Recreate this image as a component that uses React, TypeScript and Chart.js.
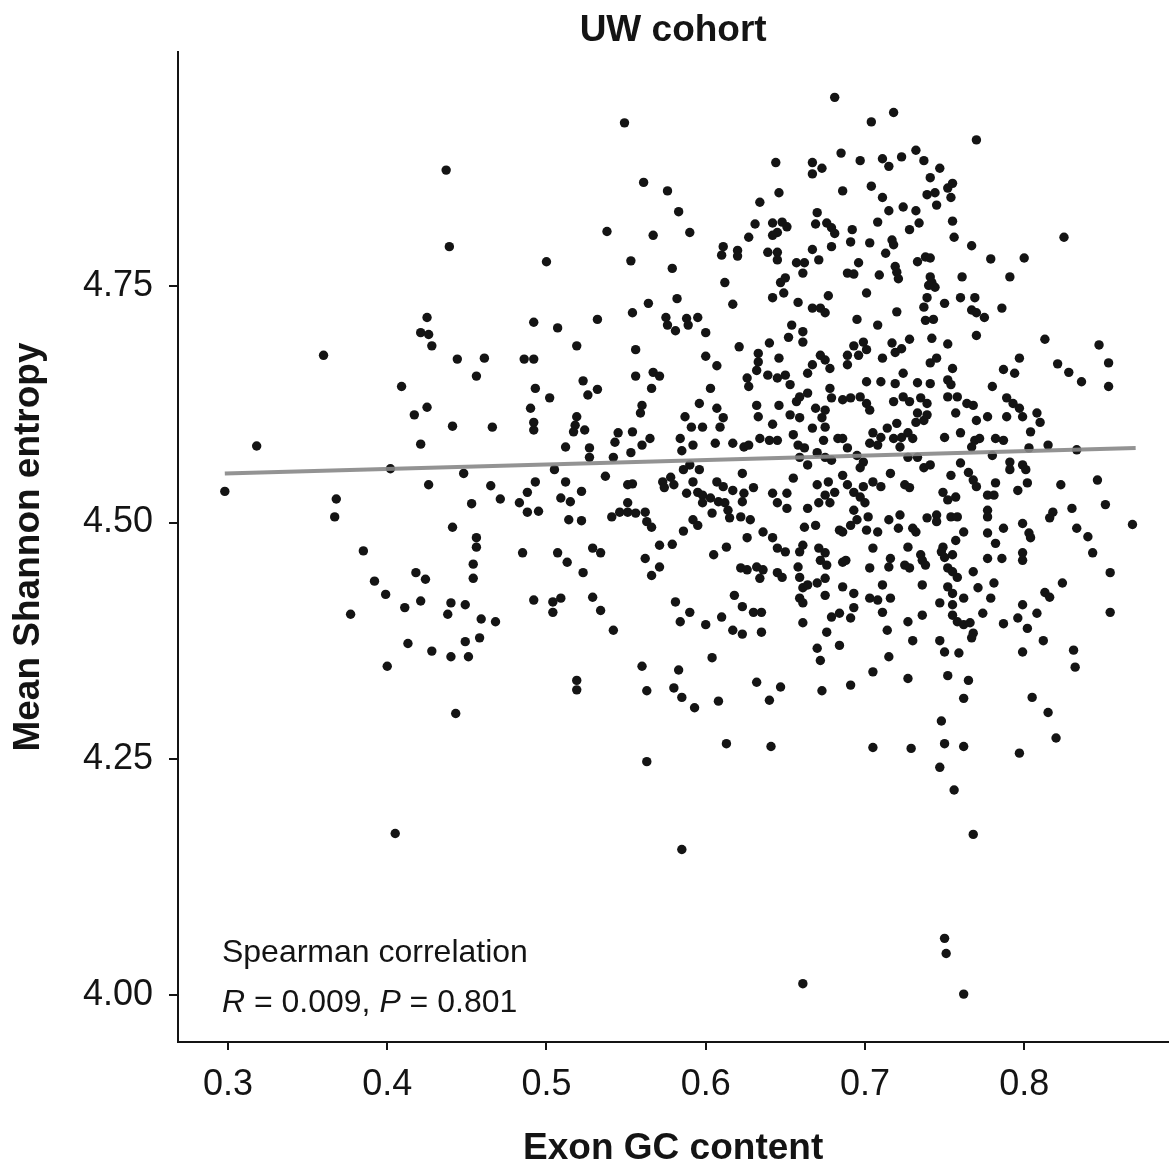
import React, { useEffect, useRef } from "react";
import { Chart, registerables } from "chart.js";

Chart.register(...registerables);

const FONT = "'Liberation Sans', Arial, Helvetica, sans-serif";

const chartTitle = "UW cohort";
const xAxisTitle = "Exon GC content";
const yAxisTitle = "Mean Shannon entropy";

const xTicks = [0.3, 0.4, 0.5, 0.6, 0.7, 0.8];
const yTicks = [4.0, 4.25, 4.5, 4.75];
const xRange = [0.2686, 0.8905];
const yRange = [3.9503, 4.998];

// linear fit line (endpoints)
const fitX = [0.298, 0.87];
const fitY = [4.552, 4.579];

const annotLine1 = "Spearman correlation";
const annotSegments = [
  { text: "R", italic: true },
  { text: " = 0.009, ", italic: false },
  { text: "P", italic: true },
  { text: " = 0.801", italic: false },
];
const annotAnchorX = 0.2962;
const annotAnchorY = [4.035, 3.982];

// Exon GC content (x)
const gcContent = [
  0.437,0.439,0.425,0.421,0.426,0.428,0.360,0.444,0.461,0.456,
  0.409,0.681,0.549,0.685,0.644,0.667,0.673,0.667,0.561,0.576,
  0.646,0.686,0.634,0.583,0.670,0.631,0.642,0.648,0.651,0.645,
  0.642,0.669,0.676,0.679,0.681,0.538,0.567,0.590,0.627,0.611,
  0.610,0.620,0.620,0.639,0.645,0.645,0.667,0.679,0.671,0.657,
  0.662,0.661,0.500,0.553,0.579,0.612,0.647,0.650,0.649,0.642,
  0.617,0.582,0.564,0.554,0.658,0.677,0.667,0.672,0.675,0.492,
  0.507,0.532,0.575,0.576,0.581,0.588,0.589,0.595,0.600,0.654,
  0.652,0.661,0.661,0.519,0.621,0.640,0.556,0.486,0.492,0.633,
  0.633,0.632,0.646,0.672,0.675,0.667,0.664,0.678,0.600,0.607,
  0.556,0.567,0.571,0.523,0.626,0.627,0.639,0.645,0.650,0.653,
  0.493,0.532,0.566,0.603,0.678,
  // upper right
  0.718,0.704,0.770,0.697,0.711,0.715,0.723,0.732,0.737,0.747,
  0.704,0.711,0.741,0.739,0.744,0.752,0.755,0.754,0.745,0.715,
  0.724,0.732,0.708,0.734,0.728,0.755,0.756,0.692,0.691,0.703,
  0.717,0.718,0.713,0.767,0.825,0.779,0.800,0.696,0.689,0.693,
  0.709,0.719,0.720,0.721,0.733,0.738,0.741,0.741,0.742,0.744,
  0.740,0.761,0.791,0.701,0.739,0.737,0.750,0.760,0.769,0.767,
  0.770,0.775,0.786,0.720,0.695,0.708,0.738,0.743,0.770,0.813,
  0.847,0.742,0.752,0.728,0.693,0.699,0.689,0.696,0.689,0.701,
  0.717,0.719,0.711,0.723,0.741,0.745,0.755,0.797,0.787,0.794,
  0.821,0.828,0.836,0.853,0.853,0.701,0.710,0.719,0.724,0.733,
  0.741,0.752,0.754,0.780,
  // middle left
  0.425,0.417,0.441,0.466,0.318,0.421,0.402,0.448,0.298,0.426,
  0.465,0.471,0.453,0.368,0.367,0.441,0.456,0.456,0.385,0.454,
  0.454,0.418,0.424,0.392,0.399,0.421,0.411,0.440,0.449,0.438,
  0.377,0.459,0.468,0.458,0.449,0.413,0.428,0.440,0.451,0.400,
  0.443,
  // middle
  0.502,0.526,0.659,0.664,0.657,0.679,0.490,0.492,0.492,0.519,
  0.518,0.524,0.517,0.560,0.559,0.596,0.607,0.611,0.609,0.632,
  0.633,0.646,0.642,0.653,0.659,0.669,0.675,0.673,0.675,0.667,
  0.686,0.587,0.591,0.598,0.554,0.565,0.560,0.545,0.543,0.512,
  0.527,0.527,0.584,0.592,0.585,0.606,0.617,0.624,0.627,0.634,
  0.640,0.645,0.655,0.658,0.662,0.659,0.664,0.670,0.675,0.679,
  0.674,0.683,0.553,0.542,0.590,0.586,0.596,0.505,0.537,0.623,
  0.655,0.493,0.488,0.512,0.522,0.509,0.515,0.483,0.488,0.495,
  0.514,0.522,0.551,0.554,0.573,0.578,0.580,0.574,0.592,0.588,
  0.595,0.598,0.603,0.608,0.598,0.604,0.612,0.614,0.607,0.611,
  0.617,0.624,0.630,0.623,0.642,0.651,0.645,0.651,0.664,0.670,
  0.677,0.681,0.675,0.678,0.671,0.551,0.546,0.551,0.556,0.562,
  0.563,0.566,0.541,0.592,0.595,0.615,0.622,0.628,0.586,0.571,
  0.579,0.636,0.626,0.642,0.645,0.650,0.662,0.669,0.684,0.661,
  0.659,0.671,0.675,0.672,0.676,0.485,0.507,0.513,0.529,0.534,
  0.562,0.605,0.613,0.571,0.566,0.523,0.622,0.626,0.632,0.636,
  0.634,0.645,0.648,0.658,0.659,0.661,0.659,0.664,0.670,0.675,
  0.675,0.661,0.686,0.686,0.492,0.504,0.509,0.504,0.529,0.534,
  0.542,0.581,0.590,0.584,0.600,0.610,0.618,0.623,0.630,0.635,
  0.617,0.623,0.635,0.661,0.676,0.679,0.684,0.684,0.670,0.672,
  0.560,0.583,0.604,0.519,0.519,0.563,0.580,0.585,0.608,0.593,
  0.632,0.647,0.640,0.673,
  // middle right
  0.691,0.697,0.701,0.703,0.718,0.724,0.728,0.735,0.739,0.752,
  0.758,0.764,0.768,0.789,0.793,0.797,0.799,0.808,0.810,0.804,
  0.757,0.770,0.777,0.789,0.733,0.737,0.732,0.739,0.720,0.714,
  0.705,0.710,0.703,0.708,0.718,0.723,0.727,0.730,0.686,0.689,
  0.695,0.699,0.697,0.722,0.727,0.733,0.750,0.760,0.769,0.772,
  0.767,0.782,0.787,0.780,0.803,0.815,0.833,0.791,0.799,0.801,
  0.791,0.737,0.741,0.716,0.754,0.760,0.765,0.768,0.770,0.777,
  0.781,0.782,0.686,0.689,0.693,0.697,0.700,0.699,0.705,0.710,
  0.725,0.728,0.749,0.752,0.757,0.796,0.802,0.823,0.846,0.830,
  0.851,0.868,0.818,0.816,0.777,0.777,0.693,0.695,0.691,0.686,
  0.702,0.701,0.708,0.715,0.721,0.722,0.730,0.732,0.739,0.745,
  0.745,0.754,0.758,0.762,0.757,0.749,0.748,0.755,0.750,0.777,
  0.782,0.787,0.799,0.803,0.804,0.833,0.840,0.843,0.705,0.727,
  0.735,0.736,0.738,0.716,0.715,0.703,0.725,0.728,0.688,0.777,
  0.786,0.799,0.799,0.752,0.755,0.758,0.768,0.854,0.711,0.736,
  0.781,0.771,0.779,0.752,0.755,0.762,0.813,0.816,0.824,
  0.693,0.703,0.708,0.716,0.747,0.755,
  0.693,0.691,0.711,0.736,0.774,0.799,0.808,0.854,
  0.755,0.758,0.762,0.766,0.768,0.767,0.787,0.796,0.802,0.727,0.714,0.730,0.747,
  0.750,0.759,0.715,0.799,0.812,0.831,0.832,0.705,0.727,0.752,0.765,0.691,0.762,0.805,0.815,
  // low outliers
  0.405,
  0.613,0.641,0.563,0.585,0.661,
  0.748,0.705,0.729,0.750,0.762,0.797,0.820,0.747,0.756,0.768,0.750,0.751,0.762,
];

// Mean Shannon entropy (y)
const shannonEntropy = [
  4.873,4.792,4.717,4.701,4.699,4.687,4.677,4.673,4.674,4.655,
  4.644,4.950,4.923,4.891,4.881,4.881,4.875,4.869,4.860,4.851,
  4.849,4.851,4.839,4.829,4.828,4.816,4.817,4.818,4.813,4.807,
  4.804,4.816,4.817,4.812,4.806,4.808,4.804,4.807,4.802,4.792,
  4.783,4.788,4.782,4.786,4.786,4.778,4.789,4.792,4.778,4.775,
  4.775,4.764,4.776,4.777,4.769,4.754,4.754,4.759,4.743,4.738,
  4.731,4.737,4.732,4.722,4.733,4.740,4.727,4.727,4.722,4.712,
  4.706,4.715,4.717,4.709,4.703,4.716,4.709,4.717,4.701,4.709,
  4.696,4.702,4.691,4.687,4.686,4.690,4.683,4.673,4.673,4.679,
  4.670,4.661,4.674,4.677,4.672,4.667,4.658,4.663,4.676,4.666,
  4.655,4.659,4.655,4.650,4.653,4.644,4.656,4.653,4.656,4.646,
  4.642,4.641,4.642,4.642,4.642,
  // upper right
  4.934,4.924,4.905,4.883,4.885,4.877,4.887,4.894,4.883,4.875,
  4.856,4.844,4.865,4.847,4.849,4.854,4.859,4.844,4.836,4.830,
  4.834,4.830,4.818,4.817,4.810,4.819,4.802,4.810,4.797,4.796,
  4.799,4.794,4.785,4.793,4.802,4.779,4.780,4.775,4.764,4.763,
  4.762,4.771,4.765,4.758,4.776,4.781,4.780,4.760,4.754,4.749,
  4.751,4.760,4.760,4.743,4.738,4.728,4.732,4.738,4.738,4.725,
  4.722,4.717,4.727,4.723,4.715,4.709,4.714,4.715,4.698,4.694,
  4.688,4.695,4.689,4.694,4.687,4.691,4.677,4.677,4.667,4.683,
  4.690,4.680,4.674,4.684,4.669,4.674,4.663,4.674,4.662,4.658,
  4.668,4.659,4.649,4.669,4.644,4.649,4.649,4.647,4.658,4.648,
  4.647,4.651,4.646,4.644,
  // middle left
  4.622,4.614,4.602,4.601,4.581,4.583,4.557,4.552,4.533,4.540,
  4.539,4.525,4.520,4.525,4.506,4.495,4.484,4.474,4.470,4.456,
  4.441,4.447,4.440,4.438,4.424,4.417,4.410,4.415,4.413,4.403,
  4.403,4.398,4.395,4.378,4.374,4.372,4.364,4.358,4.358,4.348,
  4.298,
  // middle
  4.632,4.635,4.633,4.637,4.628,4.632,4.621,4.606,4.598,4.612,
  4.603,4.598,4.596,4.624,4.616,4.626,4.621,4.611,4.601,4.624,
  4.612,4.624,4.604,4.614,4.611,4.621,4.619,4.611,4.601,4.600,
  4.630,4.612,4.601,4.601,4.596,4.589,4.582,4.595,4.585,4.580,
  4.579,4.569,4.589,4.582,4.576,4.584,4.584,4.580,4.582,4.589,
  4.587,4.587,4.593,4.582,4.579,4.569,4.561,4.574,4.569,4.566,
  4.587,4.589,4.574,4.569,4.561,4.556,4.556,4.556,4.549,4.552,
  4.547,4.543,4.532,4.543,4.533,4.526,4.522,4.521,4.511,4.512,
  4.503,4.502,4.540,4.541,4.543,4.548,4.540,4.537,4.543,4.531,
  4.532,4.529,4.526,4.522,4.521,4.510,4.521,4.513,4.543,4.538,
  4.534,4.531,4.537,4.522,4.531,4.531,4.521,4.515,4.515,4.540,
  4.543,4.532,4.529,4.521,4.521,4.521,4.511,4.511,4.510,4.511,
  4.501,4.495,4.506,4.503,4.497,4.505,4.506,4.503,4.491,4.476,
  4.477,4.490,4.484,4.484,4.473,4.469,4.495,4.497,4.492,4.476,
  4.469,4.473,4.468,4.460,4.455,4.468,4.468,4.458,4.473,4.468,
  4.462,4.466,4.474,4.453,4.444,4.447,4.452,4.450,4.453,4.450,
  4.441,4.447,4.442,4.453,4.442,4.431,4.420,4.434,4.436,4.441,
  4.423,4.415,4.458,4.432,4.418,4.416,4.420,4.405,4.421,4.407,
  4.386,4.416,4.405,4.395,4.392,4.400,4.423,4.411,4.405,4.405,
  4.386,4.382,4.384,4.394,4.384,4.400,4.404,4.370,4.367,4.354,
  4.348,4.344,4.357,4.333,4.323,4.322,4.325,4.315,4.311,4.304,
  4.331,4.326,4.312,4.322,
  // middle right
  4.632,4.633,4.626,4.619,4.628,4.633,4.628,4.632,4.626,4.633,
  4.633,4.626,4.624,4.632,4.626,4.621,4.612,4.616,4.606,4.596,
  4.616,4.608,4.612,4.612,4.616,4.608,4.606,4.614,4.605,4.600,
  4.595,4.590,4.584,4.582,4.589,4.590,4.595,4.589,4.589,4.579,
  4.571,4.564,4.558,4.580,4.569,4.569,4.590,4.595,4.587,4.589,
  4.580,4.589,4.587,4.571,4.579,4.582,4.577,4.564,4.561,4.556,
  4.556,4.558,4.561,4.552,4.550,4.563,4.553,4.545,4.538,4.529,
  4.529,4.542,4.550,4.540,4.532,4.527,4.521,4.538,4.543,4.538,
  4.540,4.537,4.532,4.524,4.527,4.534,4.542,4.540,4.545,4.515,
  4.519,4.498,4.511,4.505,4.513,4.506,4.513,4.503,4.497,4.490,
  4.506,4.492,4.490,4.503,4.494,4.508,4.494,4.490,4.505,4.508,
  4.501,4.506,4.506,4.490,4.481,4.474,4.469,4.466,4.463,4.489,
  4.478,4.494,4.499,4.489,4.484,4.494,4.485,4.468,4.473,4.474,
  4.466,4.460,4.455,4.462,4.453,4.452,4.455,4.452,4.460,4.462,
  4.462,4.468,4.460,4.452,4.448,4.442,4.448,4.447,4.434,4.434,
  4.436,4.431,4.420,4.432,4.425,4.420,4.426,4.421,4.436,
  4.425,4.420,4.418,4.420,4.415,4.413,
  4.410,4.399,4.405,4.402,4.404,4.413,4.404,4.405,
  4.402,4.395,4.392,4.394,4.383,4.378,4.393,4.399,4.388,4.395,4.386,4.375,4.375,
  4.363,4.362,4.358,4.363,4.375,4.365,4.347,4.342,4.335,4.338,4.333,4.328,4.314,4.315,4.299,
  // low outliers
  4.171,
  4.266,4.263,4.247,4.154,4.012,
  4.290,4.262,4.261,4.266,4.263,4.256,4.272,4.241,4.217,4.170,4.060,4.044,4.001,
];

const INK = "#141414";

export default function App() {
  const canvasRef = useRef<HTMLCanvasElement | null>(null);

  useEffect(() => {
    const canvas = canvasRef.current;
    if (!canvas) return;

    const points = gcContent.map((x, i) => ({ x, y: shannonEntropy[i] }));
    const fitPoints = fitX.map((x, i) => ({ x, y: fitY[i] }));

    const annotationPlugin = {
      id: "spearmanAnnotation",
      afterDraw(chart: any) {
        const { ctx, scales } = chart;
        const px = scales.x.getPixelForValue(annotAnchorX);
        ctx.save();
        ctx.fillStyle = INK;
        ctx.textAlign = "left";
        ctx.textBaseline = "alphabetic";
        ctx.font = `32px ${FONT}`;
        ctx.fillText(annotLine1, px, scales.y.getPixelForValue(annotAnchorY[0]));
        let cx = px;
        const by = scales.y.getPixelForValue(annotAnchorY[1]);
        for (const seg of annotSegments) {
          ctx.font = `${seg.italic ? "italic " : ""}32px ${FONT}`;
          ctx.fillText(seg.text, cx, by);
          cx += ctx.measureText(seg.text).width;
        }
        ctx.restore();
      },
    };

    const chart = new Chart(canvas, {
      type: "scatter",
      data: {
        datasets: [
          {
            type: "line",
            data: fitPoints,
            borderColor: "rgba(135,135,135,0.9)",
            borderWidth: 4,
            pointRadius: 0,
            fill: false,
            order: 0,
          } as any,
          {
            type: "scatter",
            data: points,
            backgroundColor: INK,
            borderColor: INK,
            borderWidth: 0,
            pointRadius: 4.7,
            order: 1,
          },
        ],
      },
      options: {
        responsive: false,
        animation: false,
        devicePixelRatio: 1,
        layout: { padding: { top: 0, left: 0, right: 0, bottom: 0 } },
        plugins: {
          legend: { display: false },
          tooltip: { enabled: false },
          title: {
            display: true,
            text: chartTitle,
            fullSize: false,
            color: INK,
            font: { family: FONT, size: 37, weight: "bold", lineHeight: 1.0 },
            padding: { top: 12, bottom: 3 },
          },
        },
        scales: {
          x: {
            type: "linear",
            min: xRange[0],
            max: xRange[1],
            afterBuildTicks: (scale: any) => {
              scale.ticks = xTicks.map((value) => ({ value }));
            },
            afterFit: (scale: any) => {
              scale.height = 125;
            },
            ticks: {
              color: INK,
              font: { family: FONT, size: 36 },
              padding: 13,
              maxRotation: 0,
              autoSkip: false,
              callback: (v: any) => Number(v).toFixed(1),
            },
            grid: {
              display: true,
              drawOnChartArea: false,
              drawTicks: true,
              tickLength: 8,
              color: INK,
              lineWidth: 2,
            },
            border: { display: true, color: INK, width: 2 },
            title: {
              display: true,
              text: xAxisTitle,
              color: INK,
              font: { family: FONT, size: 37, weight: "bold", lineHeight: 1.0 },
              padding: { top: 0, bottom: 0 },
            },
          },
          y: {
            type: "linear",
            min: yRange[0],
            max: yRange[1],
            afterBuildTicks: (scale: any) => {
              scale.ticks = yTicks.map((value) => ({ value }));
            },
            afterFit: (scale: any) => {
              scale.width = 178;
            },
            ticks: {
              color: INK,
              font: { family: FONT, size: 36 },
              padding: 16,
              autoSkip: false,
              callback: (v: any) => Number(v).toFixed(2),
            },
            grid: {
              display: true,
              drawOnChartArea: false,
              drawTicks: true,
              tickLength: 9,
              color: INK,
              lineWidth: 2,
            },
            border: { display: true, color: INK, width: 2 },
            title: {
              display: true,
              text: yAxisTitle,
              color: INK,
              font: { family: FONT, size: 37, weight: "bold", lineHeight: 1.0 },
              padding: { top: 10, bottom: 0 },
            },
          },
        },
      },
      plugins: [annotationPlugin],
    } as any);

    return () => {
      chart.destroy();
    };
  }, []);

  return (
    <div
      style={{
        position: "absolute",
        left: 0,
        top: 0,
        width: 1173,
        height: 1167,
        background: "#ffffff",
      }}
    >
      <canvas
        ref={canvasRef}
        width={1173}
        height={1167}
        style={{ display: "block", width: 1173, height: 1167 }}
      />
    </div>
  );
}
